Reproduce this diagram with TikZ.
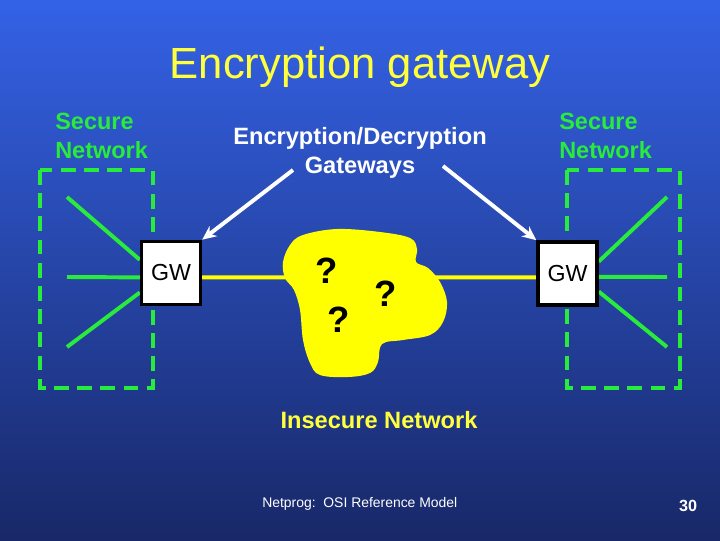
\documentclass[tikz,border=0pt]{standalone}
\usepackage{fontspec}
\setmainfont{Liberation Sans}
\usetikzlibrary{arrows.meta}

\definecolor{slidetop}{RGB}{52,98,230}
\definecolor{slidebot}{RGB}{24,40,104}
\definecolor{netgreen}{RGB}{40,235,60}
\definecolor{cloudyellow}{RGB}{255,255,0}
\definecolor{titleyellow}{RGB}{255,255,60}

\tikzset{
  gwbox/.style={draw=black,line width=2.4pt,fill=white,minimum width=42pt,
    minimum height=45pt,inner sep=0pt,font=\fontsize{16.5}{18}\selectfont},
  hostline/.style={netgreen,line width=2.8pt},
  netbox/.style={netgreen,line width=2.8pt,dash pattern=on 10.5pt off 6pt},
  pointer/.style={white,line width=2.8pt,-{Stealth[length=10pt,width=9pt]}},
  qmark/.style={font=\bfseries\fontsize{26}{28}\selectfont,text=black},
  seclabel/.style={text=netgreen,font=\bfseries\fontsize{16.7}{20.6}\selectfont,
    align=left,anchor=west,inner sep=0pt}
}

\begin{document}
\begin{tikzpicture}[x=0.025cm,y=-0.025cm]
    \useasboundingbox (0,0) rectangle (720,540);
    \shade[top color=slidetop,bottom color=slidebot] (0,0) rectangle (720,540);

    % Title
    \node[text=titleyellow,font=\fontsize{31}{34}\selectfont] (title) at (360,67) {Encryption gateway};

    % Secure network borders (behind the gateways)
    \draw[netbox] (40,170) rectangle (153,388);
    \draw[netbox] (567,170) rectangle (680,388);
    \node[seclabel] (lsec) at (55,135.5) {Secure\\Network};
    \node[seclabel] (rsec) at (559,135.5) {Secure\\Network};

    % The two gateways (empty first, so the lines can go beneath them)
    \path (171,273) node[gwbox,draw=none,fill=none] (lgw) {\phantom{GW}};
    \path (567.5,273.5) node[gwbox,draw=none,fill=none] (rgw) {\phantom{GW}};

    % Hosts on the left
    \coordinate (lh1) at (67,197);
    \coordinate (lh2) at (67,277);
    \coordinate (lh3) at (67,347);
    \draw[hostline] (lh1) -- (lgw.157);
    \draw[hostline] (lh2) -- (lgw.188);
    \draw[hostline] (lh3) -- (lgw.212);

    % Hosts on the right
    \coordinate (rh1) at (667,197);
    \coordinate (rh2) at (667,277);
    \coordinate (rh3) at (667,347);
    \draw[hostline] (rh1) -- (rgw.21);
    \draw[hostline] (rh2) -- (rgw.-6);
    \draw[hostline] (rh3) -- (rgw.-30);

    % Link through the insecure network
    \draw[cloudyellow,line width=2.8pt] (lgw.-8) -- (rgw.187);
    \fill[cloudyellow] plot[smooth cycle,tension=0.6] coordinates {
      (290,245) (303,235) (337,229) (380,232) (410,238) (417,249) (416,262)
      (428,268) (440,282) (447,302) (443,322) (430,335) (403,340) (382,344)
      (378,362) (370,373) (348,377) (320,375) (310,363) (303,340) (300,310)
      (294,290) (285,278) (283,262)};
    \node[qmark] (q1) at (327,271) {?};
    \node[qmark] (q2) at (339,320) {?};
    \node[qmark] (q3) at (386,294) {?};

    % Gateway boxes on top
    \node[gwbox] (lgwbox) at (lgw) {GW};
    \node[gwbox] (rgwbox) at (rgw) {GW};

    % Pointers to the gateways
    \node[text=white,font=\bfseries\fontsize{16.8}{20.6}\selectfont,align=center] (gwlabel) at (360,152.5) {Encryption/Decryption\\Gateways};
    \coordinate (ltail) at (293,170);
    \coordinate (rtail) at (443,166);
    \draw[pointer] (ltail) -- (lgwbox.north east);
    \draw[pointer] (rtail) -- (rgwbox.north west);

    \node[text=titleyellow,font=\bfseries\fontsize{16.8}{20}\selectfont] (insecure) at (379,420) {Insecure Network};

    % Footer
    \node[text=white,font=\fontsize{9.9}{12}\selectfont,anchor=west,inner sep=0pt] (footer) at (262,504) {Netprog:\ \ OSI Reference Model};
    \node[text=white,font=\bfseries\fontsize{11.5}{13}\selectfont] (pagenum) at (688,506) {30};
\end{tikzpicture}
\end{document}
